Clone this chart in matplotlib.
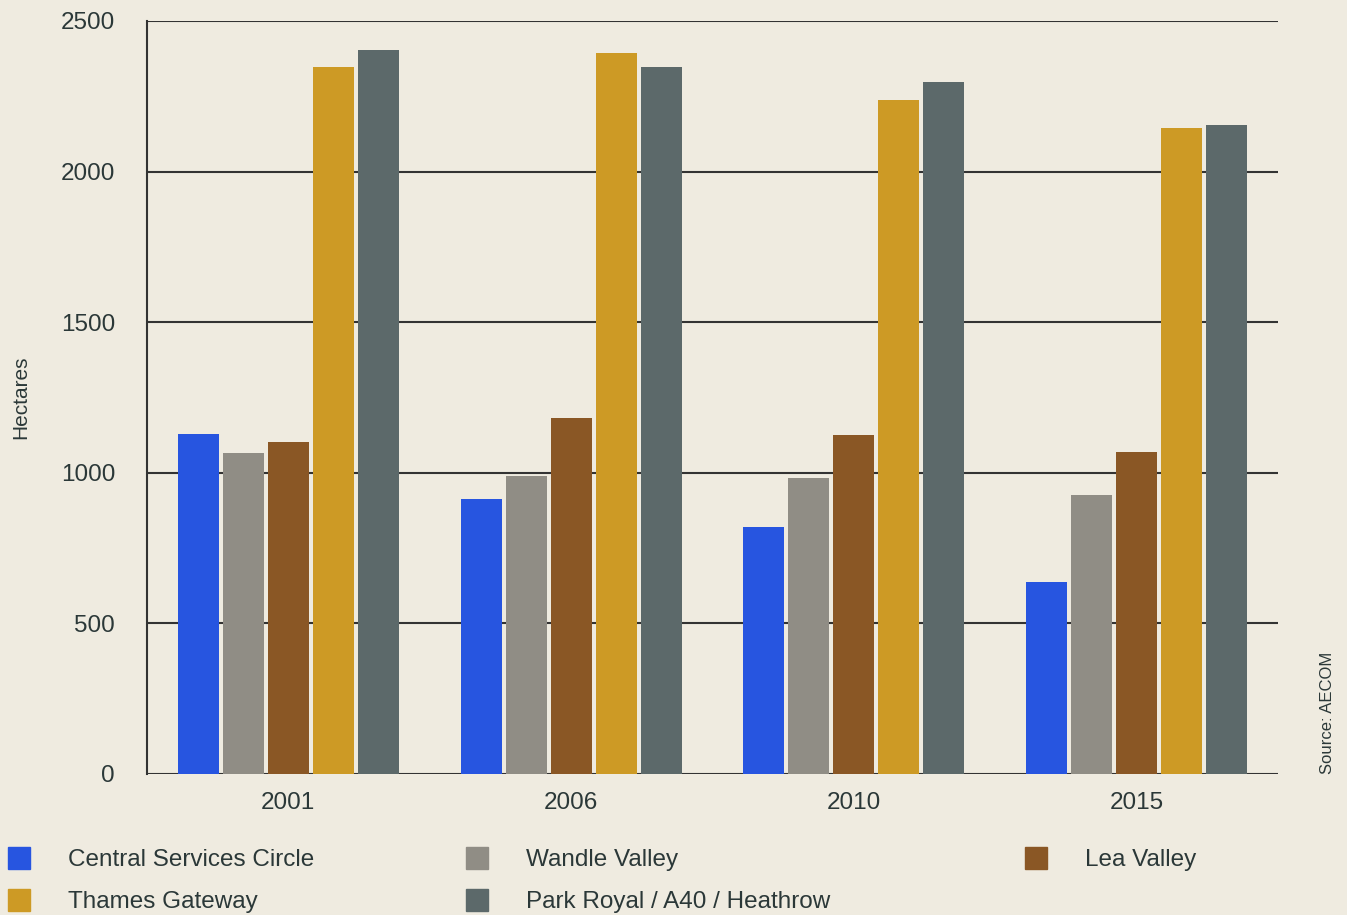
import matplotlib.pyplot as plt
from matplotlib.patches import Rectangle
import numpy as np

plt.rcParams['font.family'] = ['Liberation Sans', 'DejaVu Sans']

years = ['2001', '2006', '2010', '2015']
series = ['Central Services Circle', 'Wandle Valley', 'Lea Valley',
          'Thames Gateway', 'Park Royal / A40 / Heathrow']
central = [1129, 913, 820, 637]
wandle = [1066, 989, 983, 926]
lea = [1102, 1182, 1125, 1069]
thames = [2347, 2394, 2238, 2145]
park = [2404, 2347, 2297, 2155]
yticks = [0, 500, 1000, 1500, 2000, 2500]

colors = ['#2755e0', '#908d85', '#8a5725', '#cd9a25', '#5c696a']
bg = '#efebe0'
txt = '#2b3838'

W, H = 1347, 915
fig = plt.figure(figsize=(13.47, 9.15), dpi=100, facecolor=bg)
ax = fig.add_axes([147 / W, 1 - 774 / H, 1131 / W, 753 / H])
ax.set_facecolor(bg)

x = np.arange(len(years))
step = 0.159
width = 0.145
values = [central, wandle, lea, thames, park]
for i, vals in enumerate(values):
    ax.bar(x + (i - 2) * step, vals, width, color=colors[i], zorder=3)

ax.set_xlim(-0.5, 3.5)
ax.set_ylim(0, 2500)
ax.set_yticks(yticks)
ax.set_xticks(x)
ax.set_xticklabels(years)
ax.tick_params(length=0, labelsize=17.5, colors=txt)
ax.tick_params(axis='x', pad=13)
ax.tick_params(axis='y', pad=23)
ax.yaxis.grid(True, color='#333333', linewidth=1.5, zorder=1)
for s in ['top', 'right', 'bottom']:
    ax.spines[s].set_visible(False)
ax.spines['left'].set_color('#333333')
ax.spines['left'].set_linewidth(1.5)
ax.set_ylabel('Hectares', fontsize=15, color=txt)
ax.yaxis.set_label_coords(-117 / 1131, 0.5)

# legend laid out in figure pixels
pos = [(8, 858), (466, 858), (1025, 858), (8, 900), (466, 900)]
for (px, py), name, c in zip(pos, series, colors):
    fig.patches.append(Rectangle((px / W, 1 - (py + 11) / H), 22 / W, 22 / H,
                                 transform=fig.transFigure, color=c))
    fig.text((px + 60) / W, 1 - (py + 2) / H, name, fontsize=17.5, color=txt,
             va='center', ha='left')

fig.text(1327 / W, 1 - 774 / H, 'Source: AECOM', rotation=90, fontsize=12,
         color=txt, ha='center', va='bottom')

fig.savefig('out.png', dpi=100, facecolor=bg)
